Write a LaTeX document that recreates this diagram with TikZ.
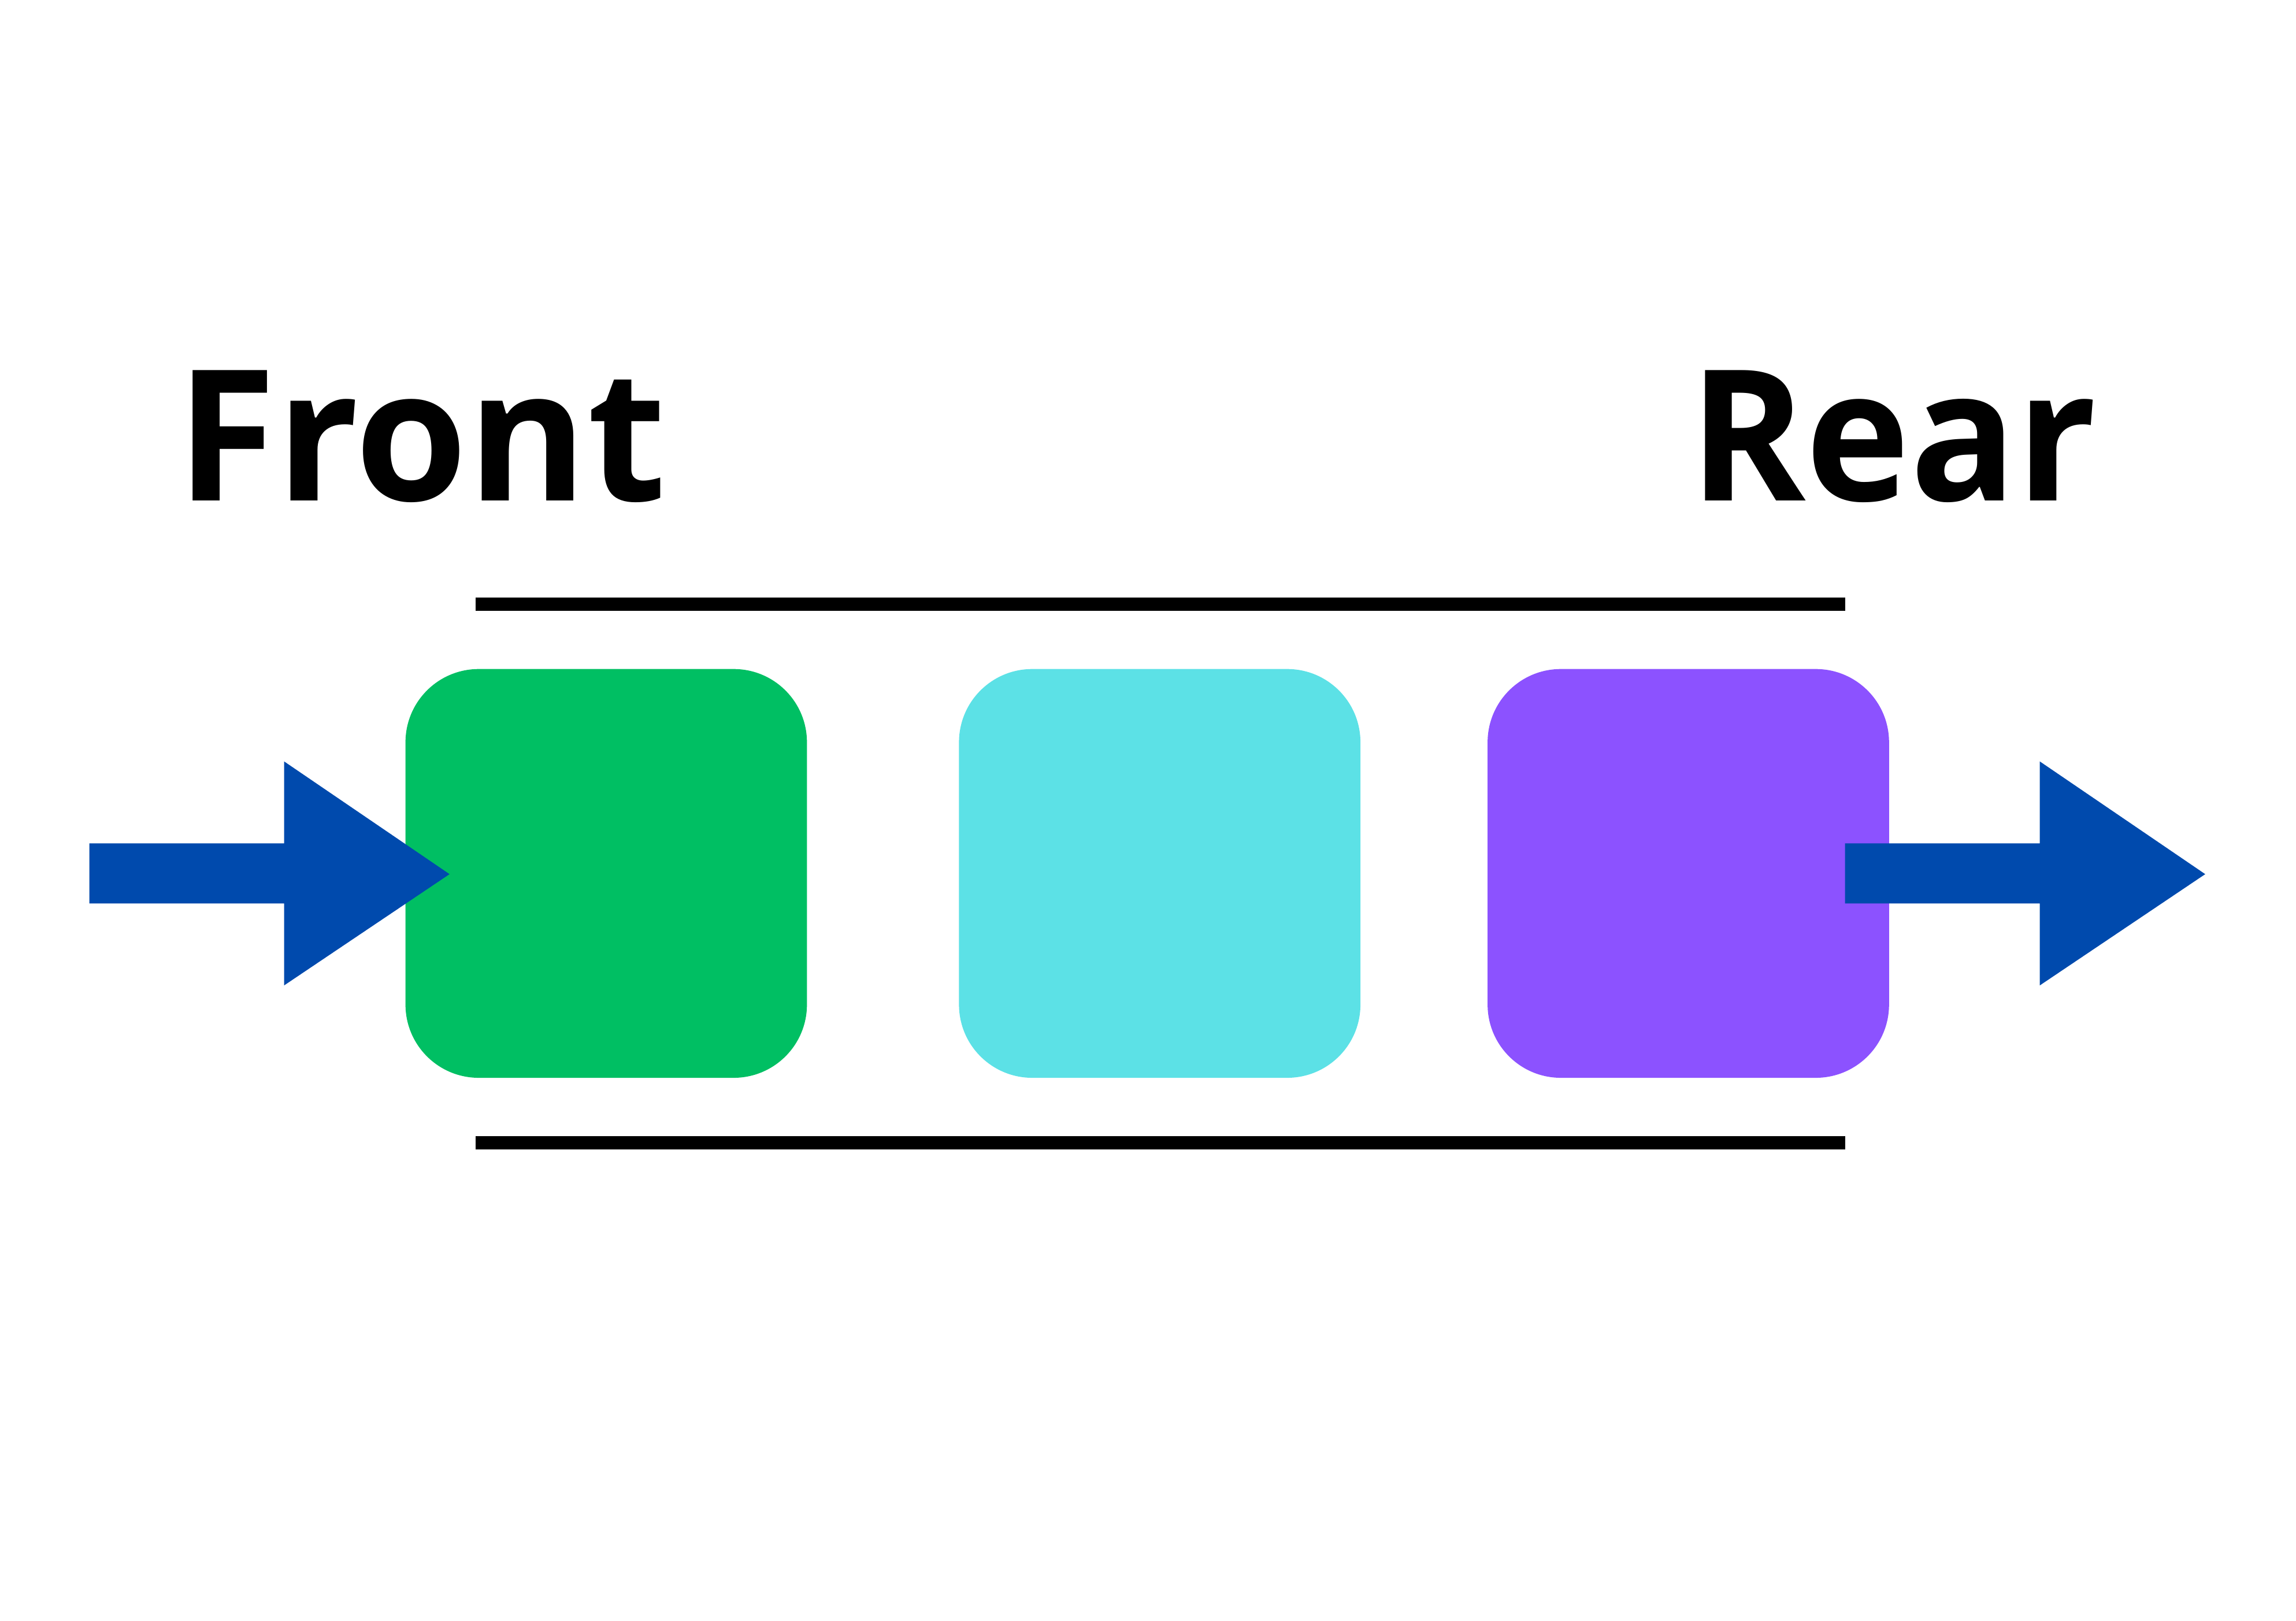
\documentclass[tikz,border=0pt]{standalone}
\usepackage{fontspec}
\setmainfont{Open Sans}
\usepackage{graphicx}
\definecolor{qgreen}{HTML}{00BF63}
\definecolor{qcyan}{HTML}{5CE1E6}
\definecolor{qpurple}{HTML}{8C52FF}
\definecolor{qblue}{HTML}{004AAD}
\tikzset{
  qbox/.style={rectangle, rounded corners=0.5cm, minimum width=2.74cm, minimum height=2.79cm, inner sep=0pt, draw=none},
  qlabel/.style={anchor=base west, inner sep=0pt},
  rail/.style={line width=0.09cm, black},
  bigarrow/.style={fill=qblue, draw=none}
}
\begin{document}
\begin{tikzpicture}[x=0.01cm, y=-0.01cm]
\useasboundingbox (0,0) rectangle (1568,1107);
% labels
\node[qlabel] (front) at (120,342) {\resizebox{3.34cm}{0.89cm}{\bfseries Front}};
\node[qlabel] (rear) at (1153,342) {\resizebox{2.78cm}{0.89cm}{\bfseries Rear}};
% rails
\draw[rail] (325,412.5) -- (1260,412.5);
\draw[rail] (325,780.5) -- (1260,780.5);
% boxes
\node[qbox, fill=qgreen] (b1) at (414,596.5) {};
\node[qbox, fill=qcyan] (b2) at (792,596.5) {};
\node[qbox, fill=qpurple] (b3) at (1153,596.5) {};
% arrows
\fill[bigarrow] (61,576) -- (194,576) -- (194,520) -- (307,597) -- (194,673) -- (194,617) -- (61,617) -- cycle;
\fill[bigarrow] (1260,576) -- (1393,576) -- (1393,520) -- (1506,597) -- (1393,673) -- (1393,617) -- (1260,617) -- cycle;
\end{tikzpicture}
\end{document}
